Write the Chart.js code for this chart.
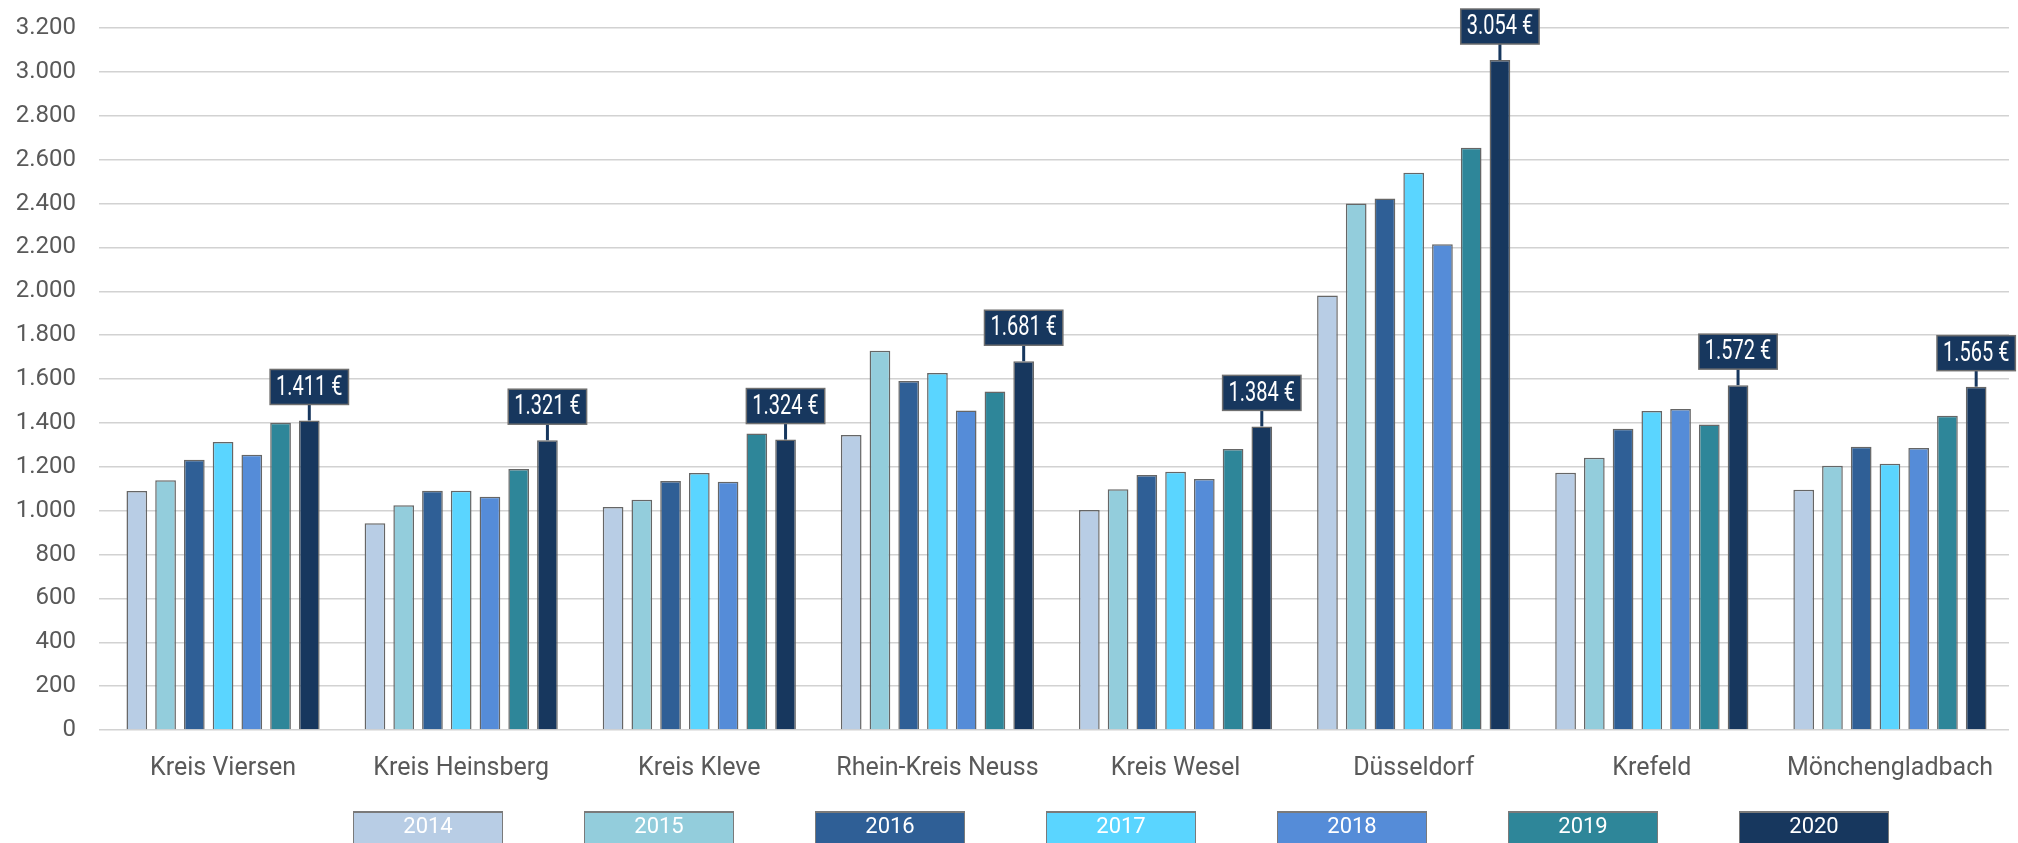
<!DOCTYPE html>
<html lang="de">
<head>
<meta charset="utf-8">
<title>Kaufkraft je Einwohner</title>
<script src="https://cdn.jsdelivr.net/npm/chart.js@4.4.1/dist/chart.umd.min.js"></script>
<style>
  html, body { margin: 0; padding: 0; background: #fff; overflow: hidden; }
  #wrap { position: relative; width: 2018px; height: 843px; }
  #legend { position: absolute; left: 353px; top: 811px; display: flex; gap: 81px; }
  #legend .item {
    width: 150px; height: 40px; box-sizing: border-box;
    border: 1px solid #7a7a7a; border-top-width: 2px;
    color: #fff; text-align: center; line-height: 34px;
    font: 22px Roboto, "DejaVu Sans", sans-serif;
  }
</style>
</head>
<body>
<div id="wrap">
  <canvas id="chart"></canvas>
  <div id="legend"></div>
</div>
<script>
// Regionen und Jahre
var categories = ['Kreis Viersen', 'Kreis Heinsberg', 'Kreis Kleve', 'Rhein-Kreis Neuss', 'Kreis Wesel', 'Düsseldorf', 'Krefeld', 'Mönchengladbach'];
var years = ['2014', '2015', '2016', '2017', '2018', '2019', '2020'];

// Werte je Jahr (Euro)
var values2014 = [1089, 942, 1016, 1345, 1003, 1981, 1173, 1095];
var values2015 = [1138, 1025, 1050, 1729, 1098, 2400, 1241, 1205];
var values2016 = [1232, 1091, 1135, 1591, 1162, 2423, 1373, 1291];
var values2017 = [1313, 1091, 1171, 1627, 1177, 2540, 1454, 1214];
var values2018 = [1255, 1063, 1132, 1456, 1144, 2214, 1463, 1285];
var values2019 = [1401, 1190, 1351, 1543, 1281, 2654, 1393, 1433];
var values2020 = [1411, 1321, 1324, 1681, 1384, 3054, 1572, 1565];

var yMax = 3200;
var yStep = 200;

(function() {
  var series = [values2014, values2015, values2016, values2017, values2018, values2019, values2020];
  var colors = ['#b8cde5', '#93cddc', '#2f5f96', '#5ad5ff', '#558cd8', '#2e8699', '#17375e'];
  var sans = 'Roboto, "DejaVu Sans", sans-serif';

  function fmt(v) {
    return String(v).replace(/\B(?=(\d{3})+(?!\d))/g, '.');
  }

  // Wertelabels für 2020 (Kasten + Linie), Schrift schmal gezogen
  var labelPlugin = {
    id: 'lastYearLabels',
    afterDatasetsDraw: function(chart) {
      var ctx = chart.ctx;
      var idx = series.length - 1;
      var meta = chart.getDatasetMeta(idx);
      var squeeze = 0.74;
      ctx.save();
      ctx.font = '27px ' + sans;
      ctx.textAlign = 'center';
      ctx.textBaseline = 'middle';
      meta.data.forEach(function(bar, i) {
        var text = fmt(series[idx][i]) + ' €';
        var w = ctx.measureText(text).width * squeeze + 12;
        var h = 35;
        var bottom = bar.y - 16;
        ctx.strokeStyle = '#17375e';
        ctx.lineWidth = 3;
        ctx.beginPath();
        ctx.moveTo(bar.x, bar.y);
        ctx.lineTo(bar.x, bottom);
        ctx.stroke();
        ctx.fillStyle = '#17375e';
        ctx.fillRect(bar.x - w / 2, bottom - h, w, h);
        ctx.strokeStyle = '#6f6f6f';
        ctx.lineWidth = 1.5;
        ctx.strokeRect(bar.x - w / 2, bottom - h, w, h);
        ctx.save();
        ctx.translate(bar.x, bottom - h / 2 + 1);
        ctx.scale(squeeze, 1);
        ctx.fillStyle = '#ffffff';
        ctx.fillText(text, 0, 0);
        ctx.restore();
      });
      ctx.restore();
    }
  };

  var datasets = series.map(function(vals, i) {
    return {
      label: years[i],
      data: vals,
      backgroundColor: colors[i],
      borderColor: '#666666',
      borderWidth: 1.5,
      barPercentage: 0.72,
      categoryPercentage: 0.845
    };
  });

  new Chart(document.getElementById('chart'), {
    type: 'bar',
    data: { labels: categories, datasets: datasets },
    plugins: [labelPlugin],
    options: {
      responsive: true,
      maintainAspectRatio: false,
      animation: false,
      layout: { padding: { top: 28, right: 9, left: 0, bottom: 0 } },
      plugins: { legend: { display: false }, tooltip: { enabled: false } },
      scales: {
        x: {
          grid: { display: false, drawTicks: false },
          border: { display: false },
          ticks: {
            padding: 24,
            maxRotation: 0,
            minRotation: 0,
            autoSkip: false,
            color: '#595959',
            font: { family: sans, size: 25 }
          },
          afterFit: function(scale) { scale.height = 113; }
        },
        y: {
          min: 0,
          max: yMax,
          border: { display: false },
          grid: { color: '#d2d2d2', lineWidth: 1.5, tickLength: 5 },
          ticks: {
            stepSize: yStep,
            padding: 23,
            color: '#595959',
            font: { family: sans, size: 24 },
            callback: function(v) { return fmt(v); }
          },
          afterFit: function(scale) {
            scale.width = 104;
            // Abstand der Labels nicht oben/unten aufschlagen
            scale.paddingTop = 0;
            scale.paddingBottom = 0;
          }
        }
      }
    }
  });

  var legend = document.getElementById('legend');
  legend.innerHTML = years.map(function(y, i) {
    return '<div class="item" style="background:' + colors[i] + '">' + y + '</div>';
  }).join('');
})();
</script>
</body>
</html>
